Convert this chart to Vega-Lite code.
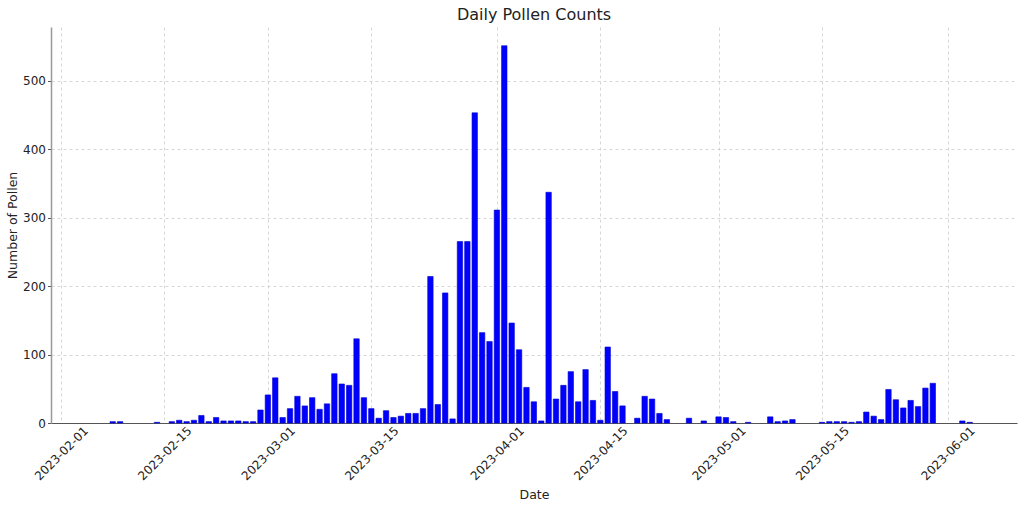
{
  "$schema": "https://vega.github.io/schema/vega-lite/v6.json",
  "autosize": {"type": "none"},
  "padding": {"left": 51, "top": 27, "right": 7, "bottom": 86},
  "width": 966,
  "height": 396,
  "background": "white",
  "title": {
    "text": "Daily Pollen Counts",
    "font": "DejaVu Sans",
    "fontSize": 16,
    "fontWeight": "normal",
    "color": "#222",
    "anchor": "middle",
    "frame": "group",
    "offset": 4
  },
  "config": {
    "view": {"stroke": null},
    "axis": {
      "labelFont": "DejaVu Sans",
      "titleFont": "DejaVu Sans",
      "labelFontSize": 12,
      "titleFontSize": 12.5,
      "titleFontWeight": "normal",
      "labelColor": "#222",
      "titleColor": "#222",
      "grid": true,
      "gridColor": "#cccccc",
      "gridDash": [3, 3],
      "gridWidth": 0.8
    }
  },
  "data": {
    "values": [
      {"date": "2023-02-08", "count": 2},
      {"date": "2023-02-09", "count": 2},
      {"date": "2023-02-14", "count": 1},
      {"date": "2023-02-16", "count": 2},
      {"date": "2023-02-17", "count": 4},
      {"date": "2023-02-18", "count": 2},
      {"date": "2023-02-19", "count": 4},
      {"date": "2023-02-20", "count": 11},
      {"date": "2023-02-21", "count": 2},
      {"date": "2023-02-22", "count": 8},
      {"date": "2023-02-23", "count": 3},
      {"date": "2023-02-24", "count": 3},
      {"date": "2023-02-25", "count": 3},
      {"date": "2023-02-26", "count": 2},
      {"date": "2023-02-27", "count": 2},
      {"date": "2023-02-28", "count": 19},
      {"date": "2023-03-01", "count": 41},
      {"date": "2023-03-02", "count": 66},
      {"date": "2023-03-03", "count": 8},
      {"date": "2023-03-04", "count": 21},
      {"date": "2023-03-05", "count": 39},
      {"date": "2023-03-06", "count": 25},
      {"date": "2023-03-07", "count": 37},
      {"date": "2023-03-08", "count": 20},
      {"date": "2023-03-09", "count": 28},
      {"date": "2023-03-10", "count": 72},
      {"date": "2023-03-11", "count": 57},
      {"date": "2023-03-12", "count": 55},
      {"date": "2023-03-13", "count": 123},
      {"date": "2023-03-14", "count": 37},
      {"date": "2023-03-15", "count": 21},
      {"date": "2023-03-16", "count": 7},
      {"date": "2023-03-17", "count": 18},
      {"date": "2023-03-18", "count": 8},
      {"date": "2023-03-19", "count": 10},
      {"date": "2023-03-20", "count": 14},
      {"date": "2023-03-21", "count": 14},
      {"date": "2023-03-22", "count": 21},
      {"date": "2023-03-23", "count": 214},
      {"date": "2023-03-24", "count": 27},
      {"date": "2023-03-25", "count": 190},
      {"date": "2023-03-26", "count": 6},
      {"date": "2023-03-27", "count": 265},
      {"date": "2023-03-28", "count": 265},
      {"date": "2023-03-29", "count": 453},
      {"date": "2023-03-30", "count": 132},
      {"date": "2023-03-31", "count": 119},
      {"date": "2023-04-01", "count": 311},
      {"date": "2023-04-02", "count": 551},
      {"date": "2023-04-03", "count": 146},
      {"date": "2023-04-04", "count": 107},
      {"date": "2023-04-05", "count": 52},
      {"date": "2023-04-06", "count": 31},
      {"date": "2023-04-07", "count": 3},
      {"date": "2023-04-08", "count": 337},
      {"date": "2023-04-09", "count": 35},
      {"date": "2023-04-10", "count": 55},
      {"date": "2023-04-11", "count": 75},
      {"date": "2023-04-12", "count": 31},
      {"date": "2023-04-13", "count": 78},
      {"date": "2023-04-14", "count": 33},
      {"date": "2023-04-15", "count": 4},
      {"date": "2023-04-16", "count": 111},
      {"date": "2023-04-17", "count": 46},
      {"date": "2023-04-18", "count": 25},
      {"date": "2023-04-20", "count": 7},
      {"date": "2023-04-21", "count": 39},
      {"date": "2023-04-22", "count": 35},
      {"date": "2023-04-23", "count": 14},
      {"date": "2023-04-24", "count": 5},
      {"date": "2023-04-27", "count": 7},
      {"date": "2023-04-29", "count": 3},
      {"date": "2023-05-01", "count": 9},
      {"date": "2023-05-02", "count": 8},
      {"date": "2023-05-03", "count": 2},
      {"date": "2023-05-05", "count": 1},
      {"date": "2023-05-08", "count": 9},
      {"date": "2023-05-09", "count": 2},
      {"date": "2023-05-10", "count": 3},
      {"date": "2023-05-11", "count": 5},
      {"date": "2023-05-15", "count": 1},
      {"date": "2023-05-16", "count": 2},
      {"date": "2023-05-17", "count": 2},
      {"date": "2023-05-18", "count": 2},
      {"date": "2023-05-19", "count": 1},
      {"date": "2023-05-20", "count": 2},
      {"date": "2023-05-21", "count": 16},
      {"date": "2023-05-22", "count": 10},
      {"date": "2023-05-23", "count": 5},
      {"date": "2023-05-24", "count": 49},
      {"date": "2023-05-25", "count": 34},
      {"date": "2023-05-26", "count": 22},
      {"date": "2023-05-27", "count": 33},
      {"date": "2023-05-28", "count": 24},
      {"date": "2023-05-29", "count": 51},
      {"date": "2023-05-30", "count": 58},
      {"date": "2023-06-03", "count": 3},
      {"date": "2023-06-04", "count": 1}
    ]
  },
  "mark": {"type": "bar", "size": 5.4, "color": "#0000ff", "stroke": "#0000cc", "strokeWidth": 0.6},
  "encoding": {
    "x": {
      "field": "date",
      "type": "temporal",
      "title": "Date",
      "scale": {
        "type": "utc",
        "domain": [1675092600000, 1686389400000],
        "padding": 0
      },
      "axis": {
        "values": [1675209600000, 1676419200000, 1677628800000, 1678838400000, 1680307200000, 1681516800000, 1682899200000, 1684108800000, 1685577600000],
        "labelExpr": "utcFormat(datum.value, '%Y-%m-%d')",
        "labelAngle": -45,
        "labelAlign": "center",
        "labelBaseline": "middle",
        "labelPadding": 30,
        "ticks": false,
        "domainColor": "#555555",
        "domainWidth": 1.2,
        "titlePadding": 7
      }
    },
    "y": {
      "field": "count",
      "type": "quantitative",
      "title": "Number of Pollen",
      "scale": {"domain": [0, 578.4], "nice": false, "zero": true},
      "axis": {
        "values": [0, 100, 200, 300, 400, 500],
        "domainColor": "#999999",
        "domainWidth": 1.5,
        "tickColor": "#555555",
        "tickSize": 3.5,
        "labelPadding": 2,
        "titlePadding": 3
      }
    }
  }
}
